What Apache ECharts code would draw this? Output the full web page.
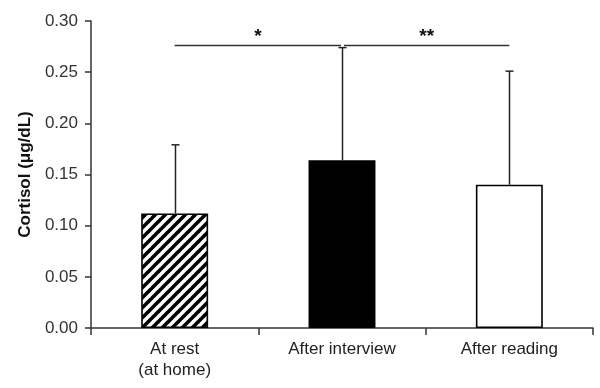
<!DOCTYPE html>
<html>
<head>
<meta charset="utf-8">
<script src="https://cdn.jsdelivr.net/npm/echarts@6/dist/echarts.min.js"></script>
<style>html,body{margin:0;padding:0;background:#fff}#c{width:600px;height:388px}</style>
</head>
<body>
<div id="c"></div>
<script>
var categories = ['At rest\n(at home)', 'After interview', 'After reading'];
var means = [0.112, 0.164, 0.140];
var errTops = [0.179, 0.274, 0.251];
var sigPairs = [[0, 1, '*'], [1, 2, '**']];
var sigLevel = 0.277;
var yTicks = {min: 0, max: 0.30, interval: 0.05};

function hatch() {
  var c = document.createElement('canvas');
  var s = 10;
  c.width = s; c.height = s;
  var g = c.getContext('2d');
  g.fillStyle = '#fff'; g.fillRect(0, 0, s, s);
  g.strokeStyle = '#000'; g.lineWidth = 3.6;
  for (var k = -1; k <= 1; k++) {
    g.beginPath();
    g.moveTo(k * s - 1, s + 1);
    g.lineTo(k * s + s + 1, -1);
    g.stroke();
  }
  return c;
}

var barStyles = [
  {color: {image: hatch(), repeat: 'repeat'}, borderColor: '#000', borderWidth: 1.6},
  {color: '#000', borderColor: '#000', borderWidth: 1.6},
  {color: '#fff', borderColor: '#000', borderWidth: 1.6}
];

var chart = echarts.init(document.getElementById('c'), null, {renderer: 'canvas'});
chart.setOption({
  animation: false,
  backgroundColor: '#fff',
  grid: {left: 91, right: 7, top: 21, bottom: 60, containLabel: false},
  xAxis: {
    type: 'category',
    data: categories,
    boundaryGap: true,
    axisLine: {lineStyle: {color: '#333', width: 1.5}},
    axisTick: {show: true, length: 7, inside: false, lineStyle: {color: '#333', width: 1.5}},
    axisLabel: {color: '#222', fontSize: 17, fontFamily: 'Liberation Sans, Arial', lineHeight: 21, margin: 11, interval: 0}
  },
  yAxis: {
    type: 'value',
    min: yTicks.min, max: yTicks.max, interval: yTicks.interval,
    name: 'Cortisol (\u03bcg/dL)',
    nameLocation: 'middle',
    nameGap: 53,
    nameTextStyle: {color: '#111', fontSize: 17, fontWeight: 'bold', fontFamily: 'Liberation Sans, Arial'},
    axisLine: {show: true, lineStyle: {color: '#333', width: 1.5}},
    axisTick: {show: true, length: 6, lineStyle: {color: '#333', width: 1.5}},
    splitLine: {show: false},
    axisLabel: {color: '#333', fontSize: 17, fontFamily: 'Liberation Sans, Arial', margin: 13,
      formatter: function (v) { return v.toFixed(2); }}
  },
  series: [
    {
      type: 'bar',
      barWidth: '40%',
      data: means.map(function (v, i) { return {value: v, itemStyle: barStyles[i]}; }),
      z: 2
    },
    {
      type: 'custom',
      z: 3,
      data: means.map(function (v, i) { return [i, v, errTops[i]]; }),
      renderItem: function (params, api) {
        var p0 = api.coord([api.value(0), api.value(1)]);
        var p1 = api.coord([api.value(0), api.value(2)]);
        var x = Math.round(p0[0]) + 0.5;
        return {
          type: 'group',
          children: [
            {type: 'line', shape: {x1: x, y1: p0[1], x2: x, y2: p1[1]}, style: {stroke: '#222', lineWidth: 1.5}},
            {type: 'line', shape: {x1: x - 4, y1: p1[1], x2: x + 4, y2: p1[1]}, style: {stroke: '#222', lineWidth: 1.5}}
          ]
        };
      }
    },
    {
      type: 'custom',
      z: 3,
      data: sigPairs.map(function (p) { return [p[0], p[1], sigLevel]; }),
      renderItem: function (params, api) {
        var a = api.coord([api.value(0), api.value(2)]);
        var b = api.coord([api.value(1), api.value(2)]);
        var label = sigPairs[params.dataIndex][2];
        var x1 = a[0] + (params.dataIndex === 0 ? 0 : 2);
        var x2 = b[0] - (params.dataIndex === 0 ? 1 : 0);
        var y = Math.round(a[1]) + 0.5;
        return {
          type: 'group',
          children: [
            {type: 'line', shape: {x1: x1, y1: y, x2: x2, y2: y}, style: {stroke: '#333', lineWidth: 1.5}},
            {type: 'text', x: (x1 + x2) / 2, y: y + 1,
              style: {text: label, fill: '#111', font: 'bold 19px Liberation Sans, Arial', align: 'center', verticalAlign: 'bottom'}}
          ]
        };
      }
    }
  ]
});
</script>
</body>
</html>
